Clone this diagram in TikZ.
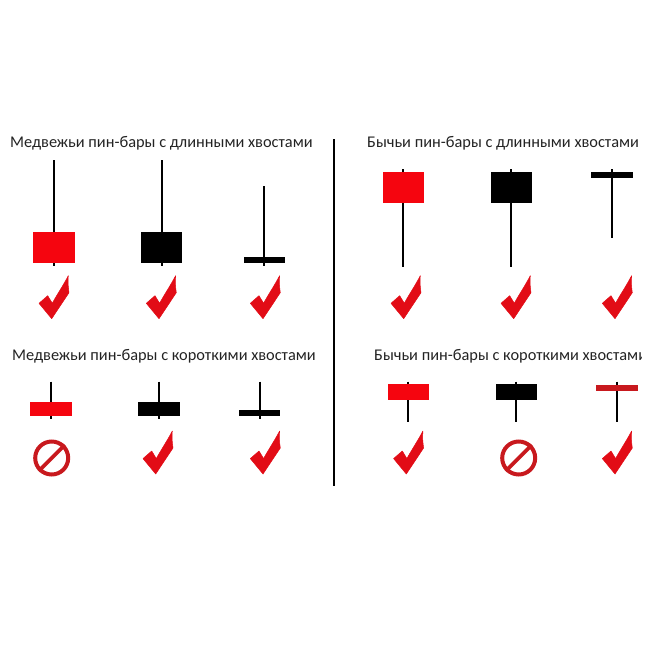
\documentclass[tikz,border=0pt]{standalone}
\usepackage{fontspec}
\setmainfont{Carlito}
\usepackage{tikz}
\definecolor{bull}{RGB}{245, 5, 15}
\definecolor{tick}{RGB}{226, 12, 22}
\definecolor{ban}{RGB}{200, 25, 30}
\definecolor{ink}{RGB}{35, 35, 35}
\newcommand*{\w}{20.7}

\begin{document}
\begin{tikzpicture}[
   x=1pt, y=-1pt,
   title/.style={anchor=west, text=ink, inner sep=0, font=\fontsize{16.35pt}{18pt}\selectfont},
   wick/.style={draw=black, line width=1.9},
   divider/.style={draw=black, line width=1.9},
   banring/.style={circle, draw=ban, fill=white, line width=4, minimum size=33, inner sep=0}
  ]

  \useasboundingbox (0, 0) rectangle (648, 648);

  % Titles
  \node (bearlong) at (10, 143.5) [title] {Медвежьи пин-бары с длинными хвостами};
  \node (bulllong) at (367, 143.5) [title] {Бычьи пин-бары с длинными хвостами};
  \node (bearshort) at (12, 356) [title] {Медвежьи пин-бары с короткими хвостами};
  \begin{scope}
    \clip (0, 340) rectangle (641, 370);
    \node (bullshort) at (374, 356) [title] {Бычьи пин-бары с короткими хвостами};
  \end{scope}

  \coordinate (top) at (334.3, 139);
  \coordinate (bottom) at (334.3, 485.7);
  \draw[divider] (top) -- (bottom);

  % Candles: centre, wick ends, body ends, colour
  \foreach \X/\A/\B/\T/\E/\C in {53.8/160/266/231.7/263.3/bull, 161.7/160/266/231.7/263.3/black,
      264.4/186/266/257/263/black, 403.3/169.3/266.7/172/203.3/bull,
      511.3/169.3/266.7/172/203.3/black, 612/169.3/238/172.3/178.3/black,
      51/381.7/418.7/401.7/416.3/bull, 159/381.7/418.7/401.7/416.3/black,
      259.6/381.7/418.7/410.3/415.7/black, 408.3/381.7/422/384.3/400.3/bull,
      516.3/381.7/422/384.3/400.3/black, 616.8/381.7/422/385/391/ban} {
    \draw[wick] (\X, \A) -- (\X, \B);
    \fill[\C] (\X - \w, \T) rectangle (\X + \w, \E);
  }

  % Ticks
  \foreach \X/\Y in {51.7/318.7, 159/318.7, 263/318.7, 403.7/318.7, 513.7/318.7, 615/318.7,
      155.7/474, 263/474, 406.3/474, 615/474} {
    \filldraw[tick, line width=0.5, line join=round, shift={(\X, \Y)}] (0, 0) -- (-12.7, -15.4) -- (-4, -23) -- (0.6, -15.4)
      .. controls (4, -22) and (12, -34) .. (16.6, -43)
      .. controls (16, -36) and (16.5, -32) .. (17.3, -26) -- cycle;
  }

  % Forbidden signs
  \foreach \N/\X in {signa/51.7, signb/518.7} {
    \node (\N) at (\X, 458) [banring] {};
    \draw[draw=ban, line width=3.6] (\N.south west) -- (\N.north east);
  }

\end{tikzpicture}
\end{document}
